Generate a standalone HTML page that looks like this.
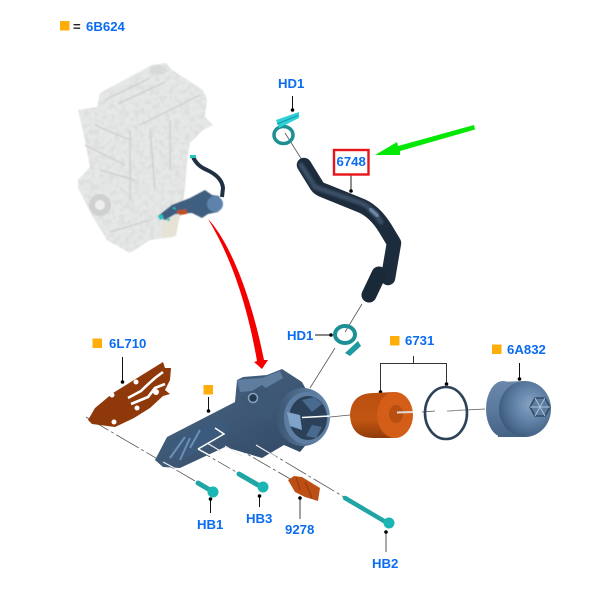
<!DOCTYPE html>
<html><head><meta charset="utf-8"><style>
html,body{margin:0;padding:0;background:#fff}
svg{display:block}
text{font-family:"Liberation Sans",sans-serif;font-weight:700;font-size:13.2px;fill:#0a6cf0}
</style></head><body>
<svg width="604" height="608" viewBox="0 0 604 608" xmlns="http://www.w3.org/2000/svg">
<defs>
<filter id="b1" x="-5%" y="-5%" width="110%" height="110%"><feGaussianBlur stdDeviation="0.5"/></filter>
<filter id="b2"><feGaussianBlur stdDeviation="1"/></filter>
<filter id="noise" x="0" y="0" width="100%" height="100%">
<feTurbulence type="fractalNoise" baseFrequency="0.2" numOctaves="2" seed="4" result="n"/>
<feColorMatrix in="n" type="matrix" values="0 0 0 0 .72  0 0 0 0 .73  0 0 0 0 .73  3.200 0 0 0 -1.300" result="c"/>
<feComposite in="c" in2="SourceAlpha" operator="in" result="t"/>
<feMerge><feMergeNode in="SourceGraphic"/><feMergeNode in="t"/></feMerge>
</filter>
<linearGradient id="filt" x1="0" y1="0" x2="0" y2="1"><stop offset="0" stop-color="#b94f10"/><stop offset=".6" stop-color="#c25512"/><stop offset="1" stop-color="#8f3c0a"/></linearGradient>
<linearGradient id="cap" x1="0" y1="0" x2="0" y2="1"><stop offset="0" stop-color="#6a88aa"/><stop offset=".5" stop-color="#5a7a9e"/><stop offset="1" stop-color="#456385"/></linearGradient>
<radialGradient id="dome" cx=".6" cy=".42" r=".65"><stop offset="0" stop-color="#86a3c3"/><stop offset=".5" stop-color="#5f80a5"/><stop offset="1" stop-color="#3a5777"/></radialGradient>
<linearGradient id="body" x1="0" y1="0" x2="1" y2="1"><stop offset="0" stop-color="#4d6a8a"/><stop offset="1" stop-color="#2e4560"/></linearGradient>
<linearGradient id="cyl" x1="0" y1="0" x2="1" y2="0"><stop offset="0" stop-color="#3a5572"/><stop offset="1" stop-color="#6b8cb0"/></linearGradient>
</defs>

<!-- Engine -->
<g filter="url(#b1)">
<path filter="url(#noise)" d="M152 65 L166 63 L172 70 L203 90 L207 100 L205 117 L213 125 L203 130 L190 143 L187 160 L185 190 L180 217 L173 237 L150 240 L130 253 L107 240 L93 217 L78 188 L78 180 L90 167 L85 140 L78 110 L97 107 L100 93 Z" fill="#e6e7e7"/>
<circle cx="100" cy="205" r="11" fill="#cfd0d0"/><circle cx="100" cy="205" r="5" fill="#eee"/>
<ellipse cx="158" cy="70" rx="8" ry="5" fill="#d8d9d9"/>
<path d="M105 100 L150 78 M118 104 L165 82 M95 125 L130 140 M85 145 L125 165 M130 130 L130 200 M150 130 L155 190 M170 120 L170 170 M100 170 L135 180 M140 125 L200 95 M110 232 L150 220" stroke="#cfd0d0" stroke-width="1.500" fill="none"/>
<path d="M162 220 L180 215 L176 236 L162 238 Z" fill="#e6e3d6"/>
</g>
<!-- Engine mini hose and housing -->
<path d="M193 157 Q197 166 207 170 Q222 177 223 188 L222 197" fill="none" stroke="#1e3042" stroke-width="4"/>
<rect x="190" y="155" width="6" height="3" fill="#27c4c4"/>
<g filter="url(#b1)">
<path d="M158 216 L172 205 L190 198 L205 190 L212 195 L219 196 L222 205 L218 212 L208 214 L202 218 L192 213 L175 214 L165 220 Z" fill="#3f5e80"/>
<circle cx="215" cy="204" r="8" fill="#5d83ad"/>
<path d="M176 211 L186 209 L187 214 L180 215Z" fill="#c2501a"/>
<path d="M158 216 l4 -2 l2 4 l-4 2z M166 220 l3 -2 l1 3z M172 208 l3 -1 l1 3z" fill="#2cc0c0"/>
</g>

<!-- Red arrow -->
<path d="M208 219 C228 240 250 290 264 360 L268 360 L262 369 L254 362 L257 361 C250 320 236 265 208 219 Z" fill="#f50000"/>

<!-- Green arrow -->
<path d="M375 155 L397 142 L398 146 L474 125 L475 129.500 L400 151 L400 155 Z" fill="#05e805"/>

<!-- Leaders -->
<g stroke="#111" stroke-width="1" fill="none">
<path d="M292.500 96V110"/>
<path d="M351 175V191" stroke="#555" stroke-width="1.300"/>
<path d="M315 335H331"/>
<path d="M122.500 357V382"/>
<path d="M208.500 397V411"/>
<path d="M413.500 356V363.500H380.500V392M413.500 363.500H446.500V383" stroke="#333"/>
<path d="M519.500 363V379"/>
<path d="M210.500 499V513"/>
<path d="M259.500 496V507"/>
<path d="M300 498V519" stroke="#444"/>
<path d="M386 532V552" stroke="#555"/>
</g>
<g fill="#000">
<circle cx="292.500" cy="110" r="1.800"/><circle cx="351" cy="191" r="1.800"/><circle cx="331" cy="335" r="1.800"/>
<circle cx="122.500" cy="382" r="1.800"/><circle cx="208.500" cy="411" r="1.800"/><circle cx="380.500" cy="392" r="1.800"/>
<circle cx="446.500" cy="384" r="1.800"/><circle cx="519.500" cy="379" r="1.800"/><circle cx="210.500" cy="499" r="1.800"/>
<circle cx="259.500" cy="496" r="1.800"/><circle cx="300" cy="498" r="1.800"/><circle cx="386" cy="532" r="1.800"/>
</g>

<!-- Exploded lines -->
<g stroke="#555" stroke-width="0.800" fill="none">
<path d="M285 133 L302 160"/>
<path d="M362 304 L345 332 M335 348 L310 388"/>
<path d="M86 417 L195 481" stroke-dasharray="26 3 3 3"/>
<path d="M198 450 L238 473" stroke-dasharray="14 3 3 3"/>
<path d="M228 443 L292 480" stroke-dasharray="20 3 3 3"/>
<path d="M257 445 L344 497" stroke-dasharray="24 3 3 3"/>
<path d="M330 417 L350 415 M422 412 L435 411 M447 411 L485 409"/>
</g>

<!-- Hose -->
<g fill="none" stroke-linejoin="round">
<path d="M304 165 L317 186 Q319 189 325 191 L362 206 Q375 212 385 228 L394 243 L388 278" stroke="#1d2c3d" stroke-width="14.500" stroke-linecap="round"/>
<path d="M301 165 L315 187 L361 203 Q372 208 381 222" stroke="#3a5066" stroke-width="5" stroke-linecap="round" filter="url(#b2)"/>
<path d="M370 209 L378 216" stroke="#7b9aba" stroke-width="3" stroke-linecap="round" filter="url(#b2)"/>
<path d="M379 274 L369 295" stroke="#1a2937" stroke-width="15" stroke-linecap="round"/>
</g>

<!-- Clamps -->
<ellipse cx="283.500" cy="135" rx="9.500" ry="8.500" fill="none" stroke="#1e8f93" stroke-width="3.500"/>
<path d="M276 120 L299 112 L299 118 L279 128 Z" fill="#2fd0d8"/>
<path d="M277 124 L298 115.500" stroke="#0f9ca3" stroke-width="1"/>
<ellipse cx="345" cy="334.500" rx="10" ry="8.500" fill="none" stroke="#1d9096" stroke-width="4"/>
<path d="M345 353 L358 341 L361 346 L350 356 Z" fill="#1e9aa0"/>

<!-- Gasket -->
<path d="M88 420 L95 408 L113 393 L163 362 L165 368 L171 368 L170 380 L165 390 L170 394 L163 396 L150 408 L134 418 L115 427 L92 424 Z" fill="#8f390a"/>
<g fill="none" stroke="#fff" stroke-width="2.600">
<path d="M128 398 L141 391 Q146 386 155 378 L163 372"/>
<path d="M131 404 L148 397 L155 388 L165 384"/>
</g>
<g fill="#fff"><circle cx="112" cy="395" r="2.500"/><circle cx="136" cy="382" r="2.500"/><circle cx="114" cy="422" r="2.500"/><circle cx="137" cy="408" r="2.500"/><circle cx="156" cy="392" r="3"/></g>

<!-- Housing -->
<path d="M155 460 L167 437 L235 402 L237 380 L243 377 L267 375 L282 369 L302 382 L312 400 L318 430 L300 452 L284 445 L262 458 L225 447 L180 468 L163 467 Z" fill="url(#body)"/>
<path d="M237 380 L262 378 L280 371 L283 378 L262 390 L240 392 Z" fill="#5f7e9f"/>
<path d="M240 398 L262 385 L280 400 L270 420 L250 415 Z" fill="#3d5874"/>
<circle cx="253" cy="398" r="4.500" fill="#24384e" stroke="#8aa4bd" stroke-width="1.500"/>
<path d="M165 447 L180 436 L215 420 L230 428 L215 442 L185 458 Z" fill="#3c5a7b"/>
<path d="M170 458 L185 437 M180 460 L190 438 M190 448 L200 430" stroke="#6d8fb2" stroke-width="2"/>
<path d="M198 449 L224 434 L215 428 M198 449 L209 455" fill="none" stroke="#fff" stroke-width="1.500"/>
<ellipse cx="303" cy="417" rx="27" ry="29" fill="url(#cyl)"/>
<ellipse cx="306" cy="418" rx="22" ry="26" fill="#5d7ea2"/>
<ellipse cx="308" cy="418" rx="19" ry="22" fill="#2b415a"/>
<path d="M287 412 L300 415 L302 430 L290 426 Z" fill="#7fa3c9"/>
<path d="M302 400 L312 412 L322 404 L315 397 Z" fill="#4a6a8d"/>
<path d="M312 425 L322 427 L316 438 L306 436 Z" fill="#4a6a8d"/>
<path d="M302 417.500 L330 416" stroke="#fff" stroke-width="1.500"/>
<path d="M163 462 L178 470 M207 443 L222 452 M225 446 L242 456 M256 445 L276 457" stroke="#eee" stroke-width="1.200"/>

<!-- Filter -->
<path d="M374 393 Q351 393 350 415 Q351 438 374 438 L395 438 V392 Z" fill="url(#filt)"/>
<ellipse cx="395" cy="415" rx="18" ry="23" fill="#d45e18"/>
<ellipse cx="396" cy="414" rx="7" ry="9" fill="#b84f10"/>
<path d="M397 412.500 L413 412" stroke="#ddd" stroke-width="2"/>

<!-- O-ring -->
<ellipse cx="446" cy="413" rx="21" ry="26" fill="none" stroke="#2d4258" stroke-width="2.600"/>
<path d="M447 411 L465 410" stroke="#999" stroke-width="1"/>

<!-- Cap -->
<ellipse cx="503" cy="409" rx="17" ry="28" fill="url(#cap)"/>
<path d="M498 382 L525 381 L525 437 L498 437 Z" fill="url(#cap)"/>
<ellipse cx="525" cy="409" rx="26" ry="28" fill="url(#dome)"/>
<path d="M530 407 L535 398 L545 398 L550 407 L545 416 L535 416 Z" fill="#5d7c9e" stroke="#2f4863" stroke-width="1.500"/>
<path d="M535 398 L545 416 M545 398 L535 416 M530 407 H550" stroke="#a9c3dc" stroke-width="1"/>

<!-- Bolts -->
<g stroke-linecap="round" fill="none">
<path d="M198 483 L210 490" stroke="#1fa5a3" stroke-width="5"/>
<path d="M239 474 L258 485" stroke="#1fa5a3" stroke-width="5"/>
<path d="M345 498 L384 521" stroke="#1fa5a3" stroke-width="4.500"/>
</g>
<g fill="#1bb5b3"><circle cx="213" cy="492" r="5.500"/><circle cx="263" cy="487" r="5.500"/><circle cx="389" cy="523" r="5.500"/></g>

<!-- Sensor -->
<path d="M288 480 L294 476 L302 477 L320 488 L318 501 L305 497 L295 492 Z" fill="#bd4f16"/>
<path d="M296 477 L300 490 M305 482 L312 498" stroke="#8c3a0c" stroke-width="1"/>

<!-- Red box -->
<rect x="334" y="150" width="34.500" height="24.500" fill="#fff" stroke="#e8131b" stroke-width="2.400"/>

<!-- Squares -->
<g fill="#fdae0a">
<rect x="60" y="21" width="9.500" height="9.500"/>
<rect x="92.500" y="338.500" width="9.500" height="9.500"/>
<rect x="203.500" y="385" width="9.500" height="9.500"/>
<rect x="390" y="336" width="9.500" height="9.500"/>
<rect x="492" y="344.500" width="9.500" height="9.500"/>
</g>

<!-- Labels -->
<text x="73" y="31" style="fill:#222">=</text>
<text x="86" y="31">6B624</text>
<text x="278" y="88">HD1</text>
<text x="336.500" y="166">6748</text>
<text x="287" y="340">HD1</text>
<text x="109" y="348">6L710</text>
<text x="405" y="345">6731</text>
<text x="507" y="354">6A832</text>
<text x="197" y="529">HB1</text>
<text x="246" y="523">HB3</text>
<text x="285" y="534">9278</text>
<text x="372" y="568">HB2</text>
</svg>
</body></html>
